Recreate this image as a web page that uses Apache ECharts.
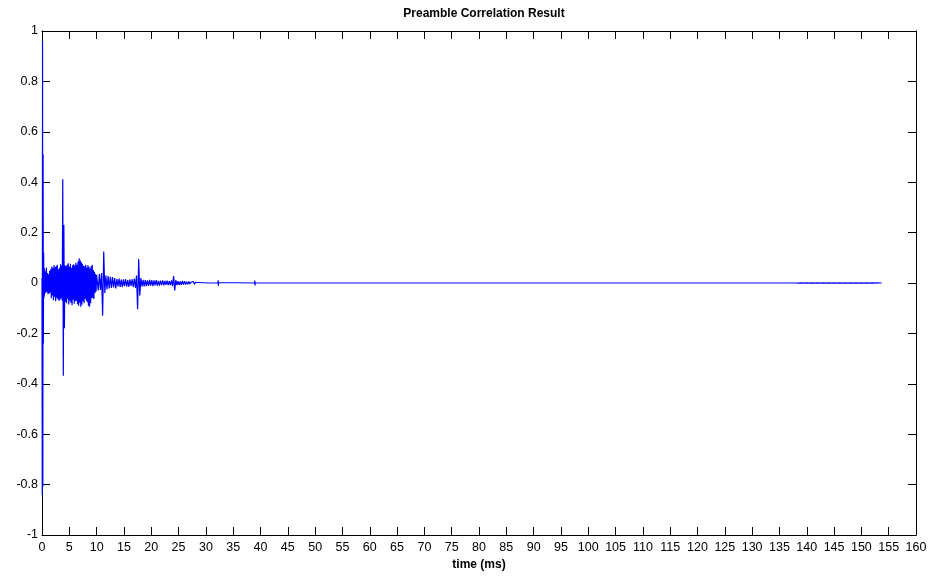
<!DOCTYPE html>
<html>
<head>
<meta charset="utf-8">
<script src="https://cdn.jsdelivr.net/npm/echarts@6/dist/echarts.min.js"></script>
<style>html,body{margin:0;padding:0;background:#fff;}#chart{width:948px;height:577px;}</style>
</head>
<body>
<div id="chart"></div>
<script>
// ---- Data ----
const titleText = 'Preamble Correlation Result';
const xAxisName = 'time (ms)';

// Main correlation peak, explicit times (ms) and values
const peakTime = [0, 0.05, 0.1, 0.15, 0.2, 0.25, 0.3, 0.35, 0.4, 0.45, 0.5, 0.55];
const peakCorr = [0.02, -0.84, 0.96, -0.81, 0.51, -0.24, 0.12, -0.06, 0.06, -0.05, 0.05, -0.04];

// Dense burst, sampled every 0.1 ms starting at 0.6 ms
const burstStartMs = 0.6;
const burstStepMs = 0.1;
const burstCorr = [
  0.045, -0.040, 0.060, -0.035, 0.040, -0.045, 0.035, -0.042, 0.048, -0.038,
  0.055, -0.060, 0.065, -0.050, 0.058, -0.068, 0.070, -0.055, 0.062, -0.072,
  0.067, -0.058, 0.072, -0.064, 0.055, -0.070, 0.060, -0.066, 0.074, -0.060,
  0.068, -0.070, 0.412, -0.368, 0.230, -0.180, 0.070, -0.075, 0.066, -0.080,
  0.072, -0.062, 0.078, -0.085, 0.064, -0.070, 0.076, -0.078, 0.060, -0.088,
  0.070, -0.066, 0.074, -0.082, 0.068, -0.072, 0.080, -0.070, 0.072, -0.084,
  0.085, -0.090, 0.098, -0.078, 0.090, -0.094, 0.082, -0.086, 0.076, -0.072,
  0.068, -0.080, 0.066, -0.062, 0.072, -0.070, 0.060, -0.076, 0.070, -0.090,
  0.064, -0.094, 0.058, -0.080, 0.066, -0.060, 0.072, -0.058, 0.052, -0.064,
  0.045, -0.040, 0.036, -0.034, 0.032
];

// Decaying part, sampled every 0.2 ms starting at 10.1 ms
const decayStartMs = 10.1;
const decayStepMs = 0.2;
const decayCorr = [
  0.034, -0.030, 0.036, -0.028, 0.040, -0.130, 0.125, -0.040, 0.030, -0.026,
  0.028, -0.022, 0.025, -0.020, 0.024, -0.018, 0.020, -0.022, 0.016, -0.014,
  0.018, -0.016, 0.014, -0.017, 0.015, -0.013, 0.016, -0.014, 0.012, -0.015,
  0.014, -0.012, 0.015, -0.016, 0.018, -0.020, 0.030, -0.104, 0.095, -0.050,
  0.020, -0.014, 0.012, -0.013, 0.011, -0.012, 0.010, -0.011, 0.012, -0.010,
  0.011, -0.012, 0.010, -0.009, 0.011, -0.010, 0.008, -0.010, 0.009, -0.008,
  0.010, -0.009, 0.008, -0.007, 0.009, -0.008, 0.007, -0.008, 0.010, -0.012,
  0.028, -0.030, 0.012, -0.008, 0.007, -0.008, 0.006, -0.007, 0.008, -0.006,
  0.007, -0.006, 0.005, -0.005, 0.006, -0.004, 0.004, -0.003, 0.006, -0.005,
  0.003, -0.003, 0.002, -0.002, 0.002, -0.002, 0.001, -0.001, 0.001, -0.001
];

// Quiet tail, explicit times (ms) and values
const tailTime = [30.5, 32.2, 32.25, 32.3, 32.35, 32.4, 38.9, 38.95, 39.0, 39.05, 39.1,
  45.7, 45.75, 45.8, 45.85, 60, 80, 100, 120, 138,
  138.5, 139, 139.5, 140, 140.5, 141, 141.5, 142, 142.5, 143, 143.5, 144, 144.5, 145, 145.5, 146, 146.5, 147, 147.5,
  148, 148.5, 149, 149.5, 150, 150.5, 151, 151.5, 152, 152.5, 153, 153.7];
const tailCorr = [0, 0, 0.011, -0.011, 0.002, 0, 0, 0.010, -0.010, 0.001, 0,
  0, 0.004, -0.003, 0, 0, 0, 0, 0, 0,
  -0.0008, 0.0008, -0.0008, 0.0008, -0.0008, 0.0008, -0.0008, 0.0008, -0.0008, 0.0008, -0.0008, 0.0008, -0.0008, 0.0008, -0.0008, 0.0008, -0.0008, 0.0008, -0.0008,
  0.0008, -0.0008, 0.0008, -0.0008, 0.0008, -0.0008, 0.0008, -0.0008, 0.0008, -0.0008, 0.0005, 0];

// ---- Build series data ----
const seriesData = [];
peakTime.forEach((t, i) => seriesData.push([t, peakCorr[i]]));
burstCorr.forEach((v, i) => seriesData.push([+(burstStartMs + i * burstStepMs).toFixed(3), v]));
decayCorr.forEach((v, i) => seriesData.push([+(decayStartMs + i * decayStepMs).toFixed(3), v]));
tailTime.forEach((t, i) => seriesData.push([t, tailCorr[i]]));

const FONT = '"Liberation Sans", Arial, Helvetica, sans-serif';
const axisLineStyle = { show: true, onZero: false, lineStyle: { color: '#000', width: 1 } };
const tickStyle = { show: true, inside: true, length: 8, lineStyle: { color: '#000', width: 1 } };

const chart = echarts.init(document.getElementById('chart'), null, { renderer: 'canvas' });
chart.setOption({
  animation: false,
  backgroundColor: '#fff',
  title: {
    text: titleText,
    left: 479, textAlign: 'center', top: 3,
    textStyle: { fontFamily: FONT, fontSize: 12, fontWeight: 'bold', color: '#000' }
  },
  grid: { left: 42, right: 32, top: 31, bottom: 42, containLabel: false },
  xAxis: [
    {
      type: 'value', position: 'bottom', min: 0, max: 160, interval: 5,
      axisLine: axisLineStyle, axisTick: tickStyle, splitLine: { show: false },
      axisLabel: { show: true, color: '#000', fontFamily: FONT, fontSize: 12.5, margin: 6 },
      name: xAxisName, nameLocation: 'middle', nameGap: 23,
      nameTextStyle: { fontFamily: FONT, fontSize: 12, fontWeight: 'bold', color: '#000' }
    },
    {
      type: 'value', position: 'top', min: 0, max: 160, interval: 5,
      axisLine: axisLineStyle, axisTick: tickStyle, splitLine: { show: false },
      axisLabel: { show: false }
    }
  ],
  yAxis: [
    {
      type: 'value', position: 'left', min: -1, max: 1, interval: 0.2,
      axisLine: axisLineStyle, axisTick: tickStyle, splitLine: { show: false },
      axisLabel: {
        show: true, color: '#000', fontFamily: FONT, fontSize: 12.5, margin: 4,
        formatter: v => String(Math.round(v * 10) / 10)
      }
    },
    {
      type: 'value', position: 'right', min: -1, max: 1, interval: 0.2,
      axisLine: axisLineStyle, axisTick: tickStyle, splitLine: { show: false },
      axisLabel: { show: false }
    }
  ],
  series: [{
    type: 'line',
    xAxisIndex: 0, yAxisIndex: 0,
    data: seriesData,
    showSymbol: false,
    symbol: 'none',
    lineStyle: { color: '#0000ff', width: 1.2 },
    emphasis: { disabled: true }
  }]
});
</script>
</body>
</html>
